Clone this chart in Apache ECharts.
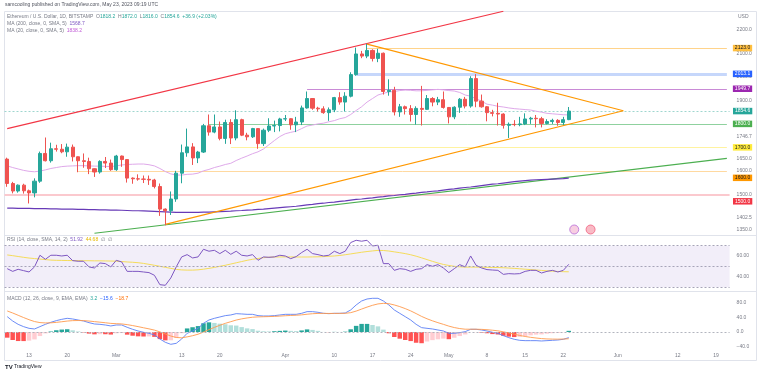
<!DOCTYPE html>
<html>
<head>
<meta charset="utf-8">
<script src="https://cdn.jsdelivr.net/npm/echarts@6/dist/echarts.min.js"></script>
<style>
html, body { margin: 0; padding: 0; background: #fff; }
#main { width: 760px; height: 376px; }
</style>
</head>
<body>
<div id="main"></div>
<script>
// daily categories, Feb 9 2023 .. Jun 21 2023
var monthNames = ['Jan','Feb','Mar','Apr','May','Jun','Jul','Aug','Sep','Oct','Nov','Dec'];
var dates = [];
for (var i = 0; i < 133; i++) {
    var d = new Date(Date.UTC(2023, 1, 9) + i * 86400000);
    dates.push(monthNames[d.getUTCMonth()] + ' ' + d.getUTCDate());
}
var lastDate = dates[dates.length - 1];

var xTickDates = ['Feb 13','Feb 20','Mar 1','Mar 13','Mar 20','Apr 1','Apr 10','Apr 17','Apr 24','May 1','May 8','May 15','May 22','Jun 1','Jun 12','Jun 19'];
var xTickText = ['13','20','Mar','13','20','Apr','10','17','24','May','8','15','22','Jun','12','19'];
var priceTicks = [1350, 1402.5, 1500, 1600, 1650, 1700, 1746.7, 1800, 1900, 2000, 2100, 2200];
var rsiTicks = [40, 60];
var macdTicks = [-40, 0, 40, 80];

// [open, close, low, high], Feb 9 .. May 23
var candles = [
    [1650,1546,1532,1656],[1546,1514,1504,1553],[1514,1539,1507,1542],[1539,1515,1503,1545],
    [1515,1506,1461,1520],[1506,1556,1487,1568],[1556,1674,1549,1682],[1674,1643,1640,1742],
    [1643,1694,1635,1720],[1694,1692,1682,1711],[1692,1681,1675,1714],[1681,1701,1660,1716],
    [1701,1660,1640,1712],[1660,1643,1594,1661],[1643,1640,1613,1674],[1640,1609,1586,1656],
    [1609,1595,1574,1611],[1595,1640,1588,1645],[1640,1633,1612,1659],[1633,1605,1600,1648],
    [1605,1663,1600,1668],[1663,1648,1617,1665],[1648,1569,1550,1650],[1569,1566,1545,1572],
    [1566,1565,1558,1585],[1565,1564,1548,1580],[1564,1561,1540,1580],[1561,1533,1525,1566],
    [1533,1437,1408,1546],[1437,1430,1368,1440],[1430,1480,1412,1512],[1480,1590,1468,1600],
    [1590,1677,1547,1712],[1677,1702,1660,1780],[1702,1655,1625,1718],[1655,1680,1633,1685],
    [1680,1792,1676,1800],[1792,1765,1750,1840],[1765,1787,1760,1840],[1787,1738,1730,1810],
    [1738,1806,1715,1818],[1806,1740,1714,1820],[1740,1818,1730,1858],[1818,1752,1748,1822],
    [1752,1745,1730,1762],[1745,1780,1740,1783],[1780,1716,1694,1781],[1716,1773,1706,1780],
    [1773,1791,1765,1824],[1791,1793,1765,1814],[1793,1821,1768,1826],[1821,1822,1812,1838],
    [1822,1796,1775,1824],[1796,1808,1765,1830],[1808,1868,1795,1878],[1868,1908,1865,1938],
    [1908,1867,1860,1910],[1867,1864,1853,1873],[1864,1848,1843,1875],[1848,1860,1813,1870],
    [1860,1912,1850,1915],[1912,1893,1882,1935],[1893,1918,1853,1935],[1918,2010,1913,2020],
    [2010,2098,2005,2125],[2098,2089,2080,2111],[2089,2113,2080,2141],[2113,2079,2066,2118],
    [2079,2101,2063,2120],[2101,1938,1925,2104],[1938,1943,1920,1990],[1943,1851,1836,1958],
    [1851,1873,1830,1885],[1873,1865,1840,1878],[1865,1840,1810,1880],[1840,1866,1797,1875],
    [1866,1862,1793,1962],[1862,1908,1860,1923],[1908,1893,1875,1914],[1893,1903,1880,1915],
    [1903,1870,1865,1938],[1870,1830,1802,1872],[1830,1871,1820,1875],[1871,1905,1847,1910],
    [1905,1876,1866,1915],[1876,1993,1869,2003],[1993,1897,1871,2012],[1897,1873,1869,1925],
    [1873,1848,1811,1876],[1848,1845,1832,1860],[1845,1842,1793,1890],[1842,1794,1780,1845],
    [1794,1798,1740,1806],[1798,1797,1790,1816],[1797,1800,1790,1830],[1800,1821,1795,1845],
    [1821,1824,1800,1830],[1824,1822,1785,1838],[1822,1802,1785,1830],[1802,1810,1798,1820],
    [1810,1815,1800,1822],[1815,1806,1792,1820],[1806,1818,1795,1830],[1818.2,1854.6,1816,1872]
];

var ma200 = [
    1441,1441,1440,1440,1440,1439,1439, 1439,1438,1438,1437,1437,1437,1436,
    1436,1435,1435,1434,1434,1433,1433, 1432,1431,1430,1430,1429,1428,1427,
    1426,1425,1424,1423,1423,1423,1423, 1423,1424,1424,1425,1426,1427,1428,
    1430,1431,1433,1434,1436,1437,1439, 1441,1443,1445,1447,1449,1452,1455,
    1457,1460,1462,1465,1467,1470,1472, 1475,1478,1480,1483,1485,1488,1490,
    1493,1495,1498,1500,1503,1505,1508, 1510,1513,1515,1518,1521,1523,1526,
    1529,1531,1534,1537,1540,1543,1545, 1548,1551,1554,1556,1558,1560,1562,
    1563,1564,1565,1566,1567,1568.7
];

var ma20 = [
    1621,1614,1608,1602,1598,1596,1599,1604,1610,1614,1618,1620,1621,1622,1622,1621,1620,1620,1619,1618,
    1621,1625,1627,1628,1629,1629,1626,1621,1610,1597,1587,1582,1582,1585,1586,1590,1600,1606,1614,1620,
    1627,1632,1644,1654,1663,1673,1681,1693,1711,1729,1746,
    1758,1764,1769,1780,1791,1795,1800,1803,1809,1814,1822,1827,1840,1857,1873,1893,1908,1923,1930,1936,
    1938,1942,1944,1943,1941,1941,1943,1945,1947,1945,
    1942,1940,1934,1923,1918,1907,1897,1884,1880,1875,1872,1868,1865,1863,1861,1859,1854,1850,1845,1843,
    1841,1839,1838.2
];

var rsi = [
    47.7,45.1,47.1,45.8,44.5,49.4,60.7,56.8,60.7,60.7,60,60.7,55.5,54.9,54.9,49.4,48.4,53.2,52.6,49.4,
    55.8,54.2,45.1,45.1,45.1,44.5,43.9,41.3,32.2,31.6,38.7,49.4,59.1,61.3,58.1,59.1,66.5,64.6,65.5,62.3,
    65.5,61.6,64.6,60.7,60,61.3,55.8,59.1,58.7,59.1,60.7,
    60,57.4,59.4,63.3,66.5,62.3,61.3,60,60.7,64.6,62.3,64.6,73,75.2,74.3,75.2,69.7,70.4,52.6,52.6,
    46.1,47.7,47.1,45.1,47.1,47.7,51.6,50,51.6,48.4,
    43.9,47.7,51.6,49.4,60,51,48.4,46.8,46.4,46.1,42.2,42.9,42.6,42.9,45.1,46.1,46.1,43.5,45.1,46.1,
    44.5,46.1,51.92
];

var rsiMa = [
    61,60.3,59.5,58.7,58,57.5,57,56.5,56,55.8,55.7,55.6,55.5,55.5,55.4,55.4,55.3,55.3,55.2,55.1,
    55,54.6,54.2,53.9,53.5,52.8,51.9,51,50,49,48,47,46.5,46.3,46.3,46.6,47.2,48,48.9,50,
    51,52.2,53.4,54.6,55.8,56.8,57.6,58.3,58.8,59,59.1,
    59.1,59.1,59,59,59,59.1,59.2,59.4,59.7,60,60.5,61.2,62,62.8,63.6,64.3,64.9,65.4,65.3,64.8,
    64,63.2,62.3,61.2,59.8,58.2,56.5,54.8,53.2,51.8,
    50.8,50,49.5,49.2,49.2,49.2,49.1,49,48.9,48.8,48.6,48.3,48,47.6,47.2,46.8,46.4,46,45.6,45.3,
    45,44.8,44.68
];

var macd = [
    42.3,30.3,21.1,14.7,10.1,8.3,14.7,21.1,26.7,31.3,34.9,37.7,35.9,33.1,30.3,25.7,22.1,21.1,19.3,16.6,
    19.3,19.3,12.9,7.4,2.8,-0.9,-3.7,-8.3,-19.3,-28.5,-34,-31.3,-19.3,-3.7,2.8,10.1,23.9,33.1,37.7,41.4,
    45.1,46.9,50.6,49.7,48.7,48.7,45.1,44.1,44.1,45.1,46.9,
    48.7,48.7,48.7,51.5,56.1,56.1,54.3,51.5,50.6,51.5,51.5,52.4,60.7,74.5,85.5,91,92.9,92.9,85.5,74.5,
    60.7,51.5,42.3,33.1,21.1,12,10.1,8.3,5.5,2.8,
    -3.7,-3.7,-1.8,0.9,7.4,7.4,5.5,2.8,-0.9,-3.7,-10.1,-15.6,-20.2,-23,-23.9,-23.9,-23.9,-24.8,-23.9,-23,
    -22.1,-20.2,-15.6
];

var signal = [
    58,52.4,46.1,39.8,33.9,28.8,25.9,25,25.3,26.5,28.2,30.1,31.3,31.6,31.4,30.2,28.6,27.1,25.5,23.7,
    22.9,22.2,20.3,17.7,14.8,11.6,8.6,5.2,0.3,-5.4,-11.1,-15.2,-16,-13.5,-10.3,-6.2,-0.2,6.5,12.7,18.5,
    23.8,28.4,32.9,36.2,38.7,40.7,41.6,42.1,42.5,43,43.8,
    44.8,45.6,46.2,47.2,49,50.4,51.2,51.3,51.1,51.2,51.3,51.5,53.3,57.6,63.2,68.7,73.6,77.4,79,78.1,
    74.6,70,64.5,58.2,50.8,43,36.4,30.8,25.7,21.1,
    16.2,12.2,9.4,7.7,7.6,7.6,7.2,6.3,4.9,3.2,0.5,-2.7,-6.2,-9.6,-12.4,-14.7,-16.6,-18.2,-19.2,-19.6,
    -19.8,-19.5,-18.7
];

var hist = [
    -15.7,-22.1,-25,-25.1,-23.8,-20.5,-11.2,-3.9,1.4,4.8,6.7,7.6,4.6,1.5,-1.1,-4.5,-6.5,-6,-6.2,-7.1,
    -3.6,-2.9,-7.4,-10.3,-12,-12.5,-12.3,-13.5,-19.6,-23.1,-22.9,-16.1,-3.3,9.8,13.1,16.3,24.1,26.6,25,22.9,
    21.3,18.5,17.7,13.5,10,8,3.5,2,1.6,2.1,3.1,
    3.9,3.1,2.5,4.3,7.1,5.7,3.1,0.2,-0.5,0.3,0.2,0.9,7.4,16.9,22.3,22.3,19.3,15.5,6.5,-3.6,
    -13.9,-18.5,-22.2,-25.1,-29.7,-31,-26.3,-22.5,-20.2,-18.3,
    -19.9,-15.9,-11.2,-6.8,-0.2,-0.2,-1.7,-3.5,-5.8,-6.9,-10.6,-12.9,-14,-13.4,-11.5,-9.2,-7.3,-6.6,-4.7,-3.4,
    -2.3,-0.7,3.2
];

// horizontal levels drawn on the chart (null start = full width)
var levelValues = [2123.0, 2013.1, 1949.7, 1854.6, 1800.0, 1700.0, 1600.0, 1500.0];
var levelStart = ['Apr 16', 'Apr 14', 'Apr 5', null, 'Mar 18', 'Mar 22', 'Feb 22', null];

// trend lines [date, price]
var redLine = [['Feb 9', 1780], ['May 11', 2280]];
var orangeUpper = [['Apr 16', 2140], ['Jun 2', 1856]];
var orangeLower = [['Mar 10', 1372], ['Jun 2', 1856]];
var greenLine = [['Feb 25', 1334], ['Jun 21', 1653]];
var eventMarks = [['May 24', 1350], ['May 27', 1350]];

var levelStyle = [
    { line: '#ffd38a', width: 1, box: '#ffbf40', text: '#131722', dy: 0 },
    { line: '#c6d7fb', width: 3, box: '#2962ff', text: '#ffffff', dy: 0 },
    { line: '#c98ad6', width: 1, box: '#9c27b0', text: '#ffffff', dy: 0 },
    { line: '#9fd6cf', width: 1, box: '#26a69a', text: '#ffffff', dy: 0, dash: [2, 2] },
    { line: '#8fd19e', width: 1, box: '#4caf50', text: '#ffffff', dy: 0 },
    { line: '#fff3a0', width: 1, box: '#ffeb3b', text: '#131722', dy: 0 },
    { line: '#ffd9a0', width: 1, box: '#ff9800', text: '#131722', dy: 7 },
    { line: '#fbc9ce', width: 2, box: '#f23645', text: '#ffffff', dy: 7 }
];

var levelMarks = levelValues.map(function (v, i) {
    var s = levelStyle[i];
    var ls = { color: s.line, width: s.width, type: s.dash || 'solid' };
    var lab = {
        show: true, position: 'end', distance: levelStart[i] ? 6 : 3.4,
        formatter: v.toFixed(1), color: s.text, backgroundColor: s.box,
        padding: [1, 2, 0.5, 2], fontSize: 5, fontFamily: 'Liberation Sans', offset: [0, s.dy]
    };
    if (levelStart[i]) {
        return [{ coord: [levelStart[i], v], lineStyle: ls, label: lab }, { coord: [lastDate, v] }];
    }
    return { yAxis: v, lineStyle: ls, label: lab };
});

function trend(data, color, width) {
    return {
        type: 'line', xAxisIndex: 0, yAxisIndex: 0, data: data, symbol: 'none',
        lineStyle: { color: color, width: width }, silent: true, z: 3
    };
}

var font = 'Liberation Sans';
function rt(parts) {
    return parts.map(function (p) { return '{' + p[0] + '|' + p[1] + '}'; }).join('');
}
var rich = {
    g: { fill: '#787b86', fontSize: 5, fontFamily: font },
    v: { fill: '#26a69a', fontSize: 5, fontFamily: font },
    p: { fill: '#7e57c2', fontSize: 5, fontFamily: font },
    m: { fill: '#c05ad6', fontSize: 5, fontFamily: font },
    y: { fill: '#e6b800', fontSize: 5, fontFamily: font },
    b: { fill: '#2962ff', fontSize: 5, fontFamily: font },
    o: { fill: '#ff6d00', fontSize: 5, fontFamily: font }
};
function txt(x, y, text) {
    return { type: 'text', x: x, y: y, silent: true, style: { text: text, rich: rich, fill: '#787b86', fontSize: 5, fontFamily: font, verticalAlign: 'middle' } };
}

var myChart = echarts.init(document.getElementById('main'), null, { renderer: 'canvas' });

var gridL = 4.5, gridR = 30.4;
var hiddenX = {
    type: 'category', data: dates, boundaryGap: true,
    axisLine: { show: false }, axisTick: { show: false }, axisLabel: { show: false }, splitLine: { show: false }
};
function yAx(idx, min, max, ticks, fmt) {
    return {
        type: 'value', gridIndex: idx, position: 'right', min: min, max: max,
        axisLine: { show: false }, axisTick: { show: false }, splitLine: { show: false },
        axisLabel: { customValues: ticks, formatter: fmt, color: '#787b86', fontSize: 5, fontFamily: font, margin: 7 }
    };
}

myChart.setOption({
    animation: false,
    backgroundColor: '#ffffff',
    grid: [
        { left: gridL, right: gridR, top: 11, height: 224 },
        { left: gridL, right: gridR, top: 236, height: 55 },
        { left: gridL, right: gridR, top: 292, height: 58 }
    ],
    xAxis: [
        Object.assign({ gridIndex: 0 }, hiddenX),
        Object.assign({ gridIndex: 1 }, hiddenX),
        {
            type: 'category', gridIndex: 2, data: dates, boundaryGap: true,
            axisLine: { show: false }, axisTick: { show: false }, splitLine: { show: false },
            axisLabel: {
                interval: function (idx, val) { return xTickDates.indexOf(val) >= 0; },
                formatter: function (val) { return xTickText[xTickDates.indexOf(val)]; },
                color: '#787b86', fontSize: 5, fontFamily: font, margin: 3
            }
        }
    ],
    yAxis: [
        yAx(0, 1326.6, 2281, priceTicks, function (v) { return v.toFixed(1); }),
        yAx(1, 26.08, 79.35, rsiTicks, function (v) { return v.toFixed(2); }),
        yAx(2, -49.7, 110.3, macdTicks, function (v) { return v < 0 ? '\u2212' + Math.abs(v).toFixed(1) : v.toFixed(1); })
    ],
    series: [
        trend(greenLine, '#4caf50', 1.1),
        {
            name: 'MA200', type: 'line', xAxisIndex: 0, yAxisIndex: 0, data: ma200, symbol: 'none',
            lineStyle: { color: '#673ab7', width: 1.2 }, silent: true, z: 3
        },
        {
            name: 'MA20', type: 'line', xAxisIndex: 0, yAxisIndex: 0, data: ma20, symbol: 'none',
            lineStyle: { color: '#dfa9ea', width: 1 }, silent: true, z: 3
        },
        {
            name: 'ETHUSD', type: 'candlestick', xAxisIndex: 0, yAxisIndex: 0, data: candles,
            barWidth: '66%', z: 4,
            itemStyle: { color: '#26a69a', color0: '#ef5350', borderColor: '#26a69a', borderColor0: '#ef5350', borderWidth: 1 },
            markLine: { symbol: ['none', 'none'], silent: true, animation: false, data: levelMarks, z: 2 }
        },
        trend(redLine, '#f23645', 1.2),
        trend(orangeUpper, '#ff9800', 1.1),
        trend(orangeLower, '#ff9800', 1.1),
        {
            type: 'scatter', xAxisIndex: 0, yAxisIndex: 0, silent: true, symbolSize: 9, z: 5,
            data: [
                { value: eventMarks[0], itemStyle: { color: '#f5c2d9', borderColor: '#b66dd9', borderWidth: 1 } },
                { value: eventMarks[1], itemStyle: { color: '#f7a9b6', borderColor: '#f06080', borderWidth: 1 } }
            ]
        },
        {
            name: 'RSI', type: 'line', xAxisIndex: 1, yAxisIndex: 1, data: rsi, symbol: 'none',
            lineStyle: { color: '#7e57c2', width: 1 }, silent: true, z: 3,
            markArea: { silent: true, itemStyle: { color: 'rgba(126,87,194,0.1)' }, data: [[{ yAxis: 30 }, { yAxis: 70 }]] },
            markLine: {
                symbol: ['none', 'none'], silent: true, label: { show: false },
                lineStyle: { color: '#a7a4b8', type: [2, 2], width: 1 },
                data: [{ yAxis: 70 }, { yAxis: 50 }, { yAxis: 30 }]
            }
        },
        {
            name: 'RSI MA', type: 'line', xAxisIndex: 1, yAxisIndex: 1, data: rsiMa, symbol: 'none',
            lineStyle: { color: '#f5dc5a', width: 1 }, silent: true, z: 2
        },
        {
            name: 'Hist', type: 'bar', xAxisIndex: 2, yAxisIndex: 2, data: hist, barWidth: '82%', silent: true,
            itemStyle: {
                color: function (p) {
                    var i = p.dataIndex, v = hist[i], prev = i > 0 ? hist[i - 1] : v;
                    if (v >= 0) return v >= prev ? '#26a69a' : '#b2dfdb';
                    return v <= prev ? '#ff5252' : '#ffcdd2';
                }
            },
            markLine: {
                symbol: ['none', 'none'], silent: true, label: { show: false },
                lineStyle: { color: '#b2b5be', type: [2, 2], width: 1 },
                data: [{ yAxis: 0 }]
            }
        },
        {
            name: 'MACD', type: 'line', xAxisIndex: 2, yAxisIndex: 2, data: macd, symbol: 'none',
            lineStyle: { color: '#5b7ff5', width: 0.9 }, silent: true, z: 3
        },
        {
            name: 'Signal', type: 'line', xAxisIndex: 2, yAxisIndex: 2, data: signal, symbol: 'none',
            lineStyle: { color: '#ff9a4d', width: 0.9 }, silent: true, z: 3
        }
    ],
    graphic: [
        { type: 'rect', silent: true, z: -1, shape: { x: 4.5, y: 11.5, width: 752, height: 349 }, style: { fill: null, stroke: '#e0e3eb', lineWidth: 1 } },
        { type: 'line', silent: true, shape: { x1: 4.5, y1: 235.5, x2: 756.5, y2: 235.5 }, style: { stroke: '#e0e3eb', lineWidth: 1 } },
        { type: 'line', silent: true, shape: { x1: 4.5, y1: 291.5, x2: 756.5, y2: 291.5 }, style: { stroke: '#e0e3eb', lineWidth: 1 } },
        { type: 'text', x: 5, y: 5, silent: true, style: { text: 'samcooling published on TradingView.com, May 23, 2023 09:19 UTC', fill: '#50535e', fontSize: 5, fontFamily: font, verticalAlign: 'middle' } },
        txt(7, 16.5, rt([['g', 'Ethereum / U.S. Dollar, 1D, BITSTAMP  O'], ['v', '1818.2'], ['g', '  H'], ['v', '1872.0'], ['g', '  L'], ['v', '1816.0'], ['g', '  C'], ['v', '1854.6  +36.9 (+2.03%)']])),
        txt(7, 24, rt([['g', 'MA (200, close, 0, SMA, 5)  '], ['p', '1568.7']])),
        txt(7, 31, rt([['g', 'MA (20, close, 0, SMA, 5)  '], ['m', '1838.2']])),
        txt(7, 240, rt([['g', 'RSI (14, close, SMA, 14, 2)  '], ['p', '51.92'], ['g', '  '], ['y', '44.68'], ['g', '  \u2205  \u2205']])),
        txt(7, 298.5, rt([['g', 'MACD (12, 26, close, 9, EMA, EMA)  '], ['v', '3.2'], ['g', '  '], ['b', '\u221215.6'], ['g', '  '], ['o', '\u221218.7']])),
        { type: 'text', x: 738, y: 17, silent: true, style: { text: 'USD', fill: '#787b86', fontSize: 5, fontFamily: font, verticalAlign: 'middle' } },
        { type: 'text', x: 5, y: 367, silent: true, style: { text: 'TV', fill: '#131722', fontSize: 6, fontWeight: 'bold', fontFamily: font, verticalAlign: 'middle' } },
        { type: 'text', x: 14, y: 367, silent: true, style: { text: 'TradingView', fill: '#131722', fontSize: 5, fontFamily: font, verticalAlign: 'middle' } }
    ]
});
</script>
</body>
</html>
